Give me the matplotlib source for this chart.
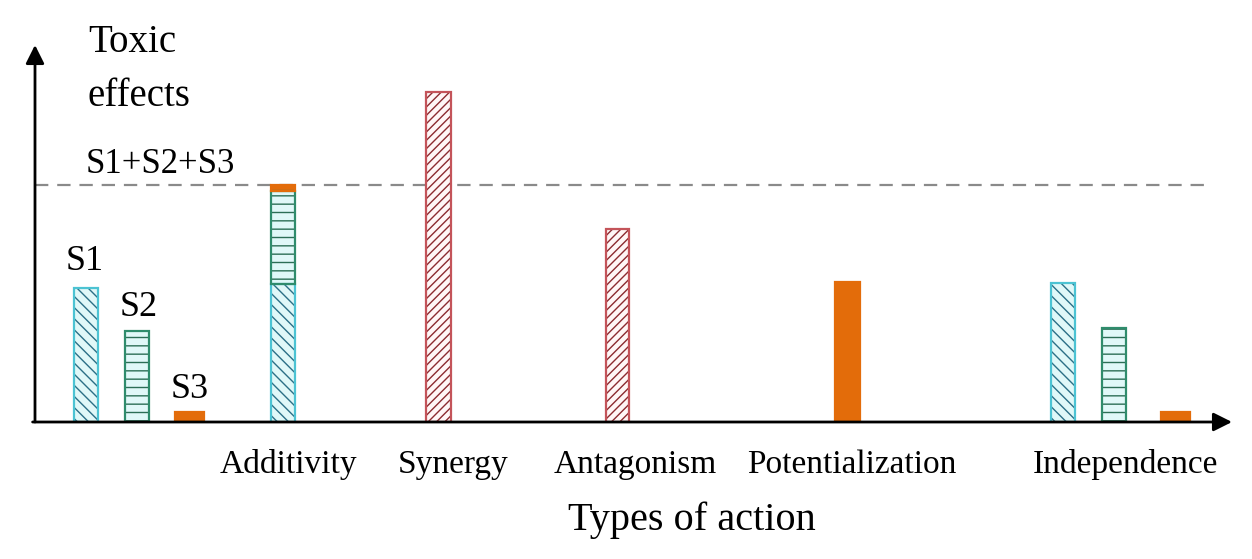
import matplotlib
matplotlib.use("Agg")
import matplotlib.pyplot as plt

# ---------------- data (heights in arbitrary "toxic effect" units) ----------------
single_labels = ["S1", "S2", "S3"]
single_values = [134, 91, 10]            # individual substances
additivity_values = [138, 93, 6]        # stacked S1, S2, S3
synergy_value = 330
antagonism_value = 193
potentialization_value = 140
independence_values = [139, 94, 10]     # S1, S2, S3
sum_line_value = 237                    # S1+S2+S3 reference level
categories = ["Additivity", "Synergy", "Antagonism", "Potentialization", "Independence"]

plt.rcParams['font.family'] = ['Liberation Serif', 'DejaVu Serif']
plt.rcParams['hatch.linewidth'] = 1.0

W, H = 1252, 559
fig = plt.figure(figsize=(W / 100, H / 100), dpi=100)
x0, y0, x1, y1 = 35, 422, 1232, 45
ax = fig.add_axes([x0 / W, (H - y0) / H, (x1 - x0) / W, (y0 - y1) / H])
ax.set_xlim(0, x1 - x0)
ax.set_ylim(0, y0 - y1)
ax.axis('off')

# styles
S1_style = dict(fill='#e0f8f8', hatch_c='#2b6f86', edge='#4cc3d3', hatch='\\\\\\')
S2_style = dict(fill='#e0f8f8', hatch_c='#2c6e56', edge='#2f8c6c', hatch='--')
S3_style = dict(fill='#e36c0a', hatch_c='#e36c0a', edge='#e36c0a', hatch=None)
R_style = dict(fill='#fff6f6', hatch_c='#8c2b30', edge='#c4545a', hatch='////')


def hbar(x, h, w, st, bottom=0):
    ax.bar(x, h, w, bottom=bottom, color=st['fill'], edgecolor=st['hatch_c'],
           hatch=st['hatch'], linewidth=0, zorder=2)
    ax.bar(x, h, w, bottom=bottom, fill=False, edgecolor=st['edge'],
           linewidth=1.6, zorder=3)


styles = [S1_style, S2_style, S3_style]

# layout (x positions in axis units, relative to the y axis)
single_x = [51, 102, 155]
single_w = [24, 24, 29]
add_x = 248
syn_x = 404
ant_x = 582.5
pot_x = 812.5
ind_x = [1028, 1079, 1141]
bw = 24

for xv, v, w, st in zip(single_x, single_values, single_w, styles):
    hbar(xv, v, w, st)

bottom = 0
for v, st in zip(additivity_values, styles):
    hbar(add_x, v, bw, st, bottom=bottom)
    bottom += v

hbar(syn_x, synergy_value, 25, R_style)
hbar(ant_x, antagonism_value, 23, R_style)
hbar(pot_x, potentialization_value, 25, S3_style)
for xv, v, w, st in zip(ind_x, independence_values, single_w, styles):
    hbar(xv, v, w, st)

# dashed reference line
ax.plot([0, 1177], [sum_line_value, sum_line_value], color='#8a8a8a', lw=1.6,
        dashes=(6, 4), zorder=1, clip_on=False)

# axes arrows
ax.annotate('', xy=(0, 1), xytext=(0, 0), xycoords='axes fraction',
            arrowprops=dict(arrowstyle='-|>', lw=2, color='black', mutation_scale=28,
                            shrinkA=0, shrinkB=0), annotation_clip=False)
ax.annotate('', xy=(1, 0), xytext=(-0.002, 0), xycoords='axes fraction',
            arrowprops=dict(arrowstyle='-|>', lw=2, color='black', mutation_scale=28,
                            shrinkA=0, shrinkB=0), annotation_clip=False)


def T(px, py, s, size, ha='left'):
    ax.text(px - x0, y0 - py, s, fontsize=size, ha=ha, va='baseline', clip_on=False)


T(88, 52, "Toxic", 28)
T(88, 106, "effects", 28)
T(86, 173, "S1+S2+S3", 25)
label_px = [(66, 270), (120, 316), (171, 398)]
for (px, py), lab in zip(label_px, single_labels):
    T(px, py, lab, 26)

cat_x = [288, 453, 635, 852, 1125]
for cx, c in zip(cat_x, categories):
    T(cx, 473, c, 24, ha='center')
T(692, 530, "Types of action", 29, ha='center')

fig.savefig("out.png", dpi=100)
